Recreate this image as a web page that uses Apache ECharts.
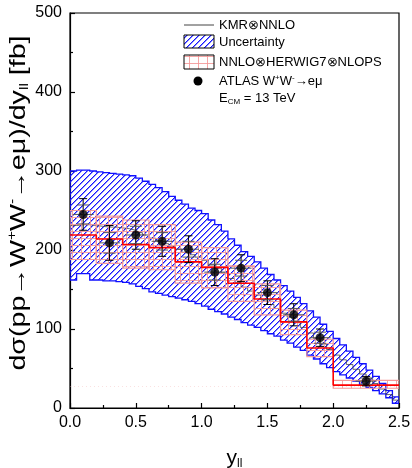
<!DOCTYPE html>
<html><head><meta charset="utf-8">
<script src="https://cdn.jsdelivr.net/npm/echarts@6/dist/echarts.min.js"></script>
<style>html,body{margin:0;padding:0;background:#fff}#c{width:412px;height:468px}</style>
</head><body><div id="c"></div>
<script>
// ---- data ----
const bandStart = 0, bandWidth = 0.05;
const bandUpper = [300,301,301,300,299,298,297,296,295,294, 291,287,283,279,274,268,263,258,253,250,
                   246,238,232,224,214,206,198,192,185,177, 169,162,155,148,140,132,123,115,106,97,
                   88,80,72,64,56,48,40,31,22,14];
const bandLower = [162,170,170,162,162,161,161,160,159,157, 154,151,147,145,143,141,139,137,135,132,
                   129,125,122,119,115,112,108,105,102,98, 94,91,86,82,77,73,67,62,56,51,
                   46,42,38,34,30,26,22,18,13,6];
const kmrCentral = [231,232,232,231,230,229,229,228,227,225, 222,219,215,212,208,204,201,197,194,191,
                    187,181,177,171,164,159,153,148,143,137, 131,126,120,115,108,102,95,88,81,74,
                    67,61,55,49,43,37,31,24,17,10];
const atlasEdges = [0,0.2,0.4,0.6,0.8,1.0,1.2,1.4,1.6,1.8,2.0,2.5];
const herwigCentral = [219,214,207,203,185,178,158,138,109,76,29];
const herwigLow  = [188,183,177,175,158,152,135,118,93,65,25];
const herwigHigh = [250,243,238,232,210,203,180,157,124,87,35];
const atlasX = [0.1,0.3,0.5,0.7,0.9,1.1,1.3,1.5,1.7,1.9,2.25];
const atlasY = [245,209,219,211,201,172,177,146,118,89,34];
const atlasErr = [20,22,18,19,17,17,17,15,14,11,6];
const atlasStat = [12,13,11,11,10,10,10,9,8,7,4];
const atlasXErr = 0.08;
const refLineY = 27;

// ---- patterns ----
function hatchCanvas(){
  const n=6, c=document.createElement('canvas'); c.width=n; c.height=n;
  const g=c.getContext('2d');
  for(let i=0;i<n;i++){ g.fillStyle='#1414ff'; g.fillRect(i,n-1-i,1,1); g.fillStyle='rgba(40,40,255,0.55)'; g.fillRect((i+1)%n,n-1-i,1,1); }
  return c;
}
function gridCanvas(){
  const c=document.createElement('canvas'); c.width=9; c.height=7;
  const g=c.getContext('2d'); g.fillStyle='rgba(243,150,150,0.85)';
  g.fillRect(0,0,9,1); g.fillRect(0,0,1,7);
  return c;
}
const hatch={image:hatchCanvas(),repeat:'repeat'};
const pinkGrid={image:gridCanvas(),repeat:'repeat'};

const bandEdges = bandUpper.map((_,i)=>bandStart+i*bandWidth).concat([bandStart+bandUpper.length*bandWidth]);
function stepData(edges, vals){ const d=vals.map((v,i)=>[edges[i],v]); d.push([edges[edges.length-1],vals[vals.length-1]]); return d; }

const FONT='"Liberation Sans", Arial, sans-serif';
const chart = echarts.init(document.getElementById('c'), null, {renderer:'canvas'});
chart.setOption({
  animation:false,
  grid:{left:70,right:13,top:13,bottom:60,show:true,borderColor:'#000',borderWidth:1.2,backgroundColor:'transparent',
    containLabel:false,outerBoundsMode:'none'},
  xAxis:{type:'value',min:0,max:2.5,interval:0.5,
    axisLine:{show:true,onZero:false,lineStyle:{color:'#000',width:1.2}},
    axisTick:{inside:true,length:5,lineStyle:{color:'#000',width:1.2}},
    minorTick:{show:true,splitNumber:2,length:3,lineStyle:{color:'#000',width:1.2}},
    splitLine:{show:false},minorSplitLine:{show:false},
    axisLabel:{formatter:v=>v.toFixed(1),fontSize:16,color:'#000',margin:7,fontFamily:FONT},
    name:'y{s|ll}',nameLocation:'middle',nameGap:38,
    nameTextStyle:{fontSize:21,color:'#000',fontFamily:FONT,lineHeight:24,rich:{s:{fontSize:12,verticalAlign:'bottom',lineHeight:12,fontFamily:FONT}}}
  },
  yAxis:{type:'value',min:0,max:500,interval:100,
    axisLine:{show:true,onZero:false,lineStyle:{color:'#000',width:1.2}},
    axisTick:{inside:true,length:5,lineStyle:{color:'#000',width:1.2}},
    minorTick:{show:true,splitNumber:2,length:3,lineStyle:{color:'#000',width:1.2}},
    splitLine:{show:false},minorSplitLine:{show:false},
    axisLabel:{fontSize:16,color:'#000',margin:8,fontFamily:FONT}
  },
  series:[
    {type:'custom',name:'Uncertainty',z:1,clip:true,data:[[0,0]],
      renderItem:(p,api)=>{
        const pts=[];
        for(let i=0;i<bandUpper.length;i++){pts.push(api.coord([bandEdges[i],bandUpper[i]]));pts.push(api.coord([bandEdges[i+1],bandUpper[i]]));}
        for(let i=bandLower.length-1;i>=0;i--){pts.push(api.coord([bandEdges[i+1],bandLower[i]]));pts.push(api.coord([bandEdges[i],bandLower[i]]));}
        return {type:'polygon',shape:{points:pts},style:{fill:hatch,stroke:'#1010ff',lineWidth:1.3}};
      }},
    {type:'line',name:'KMR',z:2,step:'end',showSymbol:false,data:stepData(bandEdges,kmrCentral),
      lineStyle:{color:'#444',width:1,opacity:0.8},silent:true},
    {type:'custom',name:'HERWIG band',z:3,clip:true,
      data:herwigCentral.map((v,i)=>[atlasEdges[i],atlasEdges[i+1],herwigLow[i],herwigHigh[i]]),
      renderItem:(p,api)=>{
        const a=api.coord([api.value(0),api.value(3)]), b=api.coord([api.value(1),api.value(2)]);
        return {type:'rect',shape:{x:a[0],y:a[1],width:b[0]-a[0],height:b[1]-a[1]},
          style:{fill:pinkGrid,stroke:'rgba(243,150,150,0.95)',lineWidth:1.2}};
      }},
    {type:'line',name:'HERWIG',z:4,step:'end',showSymbol:false,data:stepData(atlasEdges,herwigCentral),
      lineStyle:{color:'#ff0000',width:1.6},silent:true,
      markLine:{silent:true,symbol:'none',label:{show:false},data:[{yAxis:refLineY}],
        lineStyle:{color:'rgba(240,170,170,0.35)',type:[1,3],width:1}}},
    {type:'custom',name:'errors',z:5,
      data:atlasX.map((x,i)=>[x,atlasY[i],atlasErr[i],atlasStat[i]]),
      renderItem:(p,api)=>{
        const x=api.value(0),y=api.value(1),e=api.value(2),s=api.value(3);
        const top=api.coord([x,y+e]),bot=api.coord([x,y-e]);
        const st=api.coord([x,y+s]),sb=api.coord([x,y-s]);
        const l=api.coord([x-atlasXErr,y]),r=api.coord([x+atlasXErr,y]);
        const blk={stroke:'#000',lineWidth:1}, gr={stroke:'#555',lineWidth:1};
        return {type:'group',children:[
          {type:'line',shape:{x1:top[0],y1:top[1],x2:bot[0],y2:bot[1]},style:blk},
          {type:'line',shape:{x1:top[0]-4,y1:top[1],x2:top[0]+4,y2:top[1]},style:blk},
          {type:'line',shape:{x1:bot[0]-4,y1:bot[1],x2:bot[0]+4,y2:bot[1]},style:blk},
          {type:'line',shape:{x1:st[0]-6,y1:st[1],x2:st[0]+6,y2:st[1]},style:gr},
          {type:'line',shape:{x1:sb[0]-6,y1:sb[1],x2:sb[0]+6,y2:sb[1]},style:gr},
          {type:'line',shape:{x1:l[0],y1:l[1],x2:r[0],y2:r[1]},style:gr}
        ]};
      }},
    {type:'scatter',name:'ATLAS',z:6,symbol:'circle',symbolSize:9,itemStyle:{color:'#000'},
      data:atlasX.map((x,i)=>[x,atlasY[i]])}
  ],
  graphic:[
    {type:'text',x:19,y:203,rotation:Math.PI/2,scaleX:1.3,z:10,
      style:{text:'dσ(pp→W{sp|+}W{sp|-}→eμ)/dy{sb|ll} [fb]',fontSize:22,fontFamily:FONT,fill:'#000',
        align:'center',verticalAlign:'middle',lineHeight:24,
        rich:{sp:{fontSize:12,verticalAlign:'top',lineHeight:12,fontFamily:FONT},sb:{fontSize:12,verticalAlign:'bottom',lineHeight:10,fontFamily:FONT}}}},
    {type:'line',shape:{x1:184,y1:25,x2:214,y2:25},style:{stroke:'#444',lineWidth:1}},
    {type:'rect',shape:{x:184,y:35,width:30,height:13},style:{fill:hatch,stroke:'#000',lineWidth:1}},
    {type:'rect',shape:{x:184,y:55,width:30,height:14},style:{fill:pinkGrid,stroke:'#000',lineWidth:1}},
    {type:'circle',shape:{cx:198,cy:81,r:4.5},style:{fill:'#000'}},
    {type:'text',x:219,y:25,style:{text:'KMR⊗NNLO',font:'13px '+FONT,fill:'#000',verticalAlign:'middle'}},
    {type:'text',x:219,y:42,style:{text:'Uncertainty',font:'13px '+FONT,fill:'#000',verticalAlign:'middle'}},
    {type:'text',x:219,y:62,style:{text:'NNLO⊗HERWIG7⊗NLOPS',font:'13px '+FONT,fill:'#000',verticalAlign:'middle'}},
    {type:'text',x:219,y:81,style:{text:'ATLAS W{p|+}W{p|-}→eμ',fontSize:13,fontFamily:FONT,fill:'#000',verticalAlign:'middle',
      lineHeight:15,rich:{p:{fontSize:8,verticalAlign:'top',lineHeight:9,fontFamily:FONT}}}},
    {type:'text',x:219,y:98,style:{text:'E{b|CM} = 13 TeV',fontSize:13,fontFamily:FONT,fill:'#000',verticalAlign:'middle',
      lineHeight:15,rich:{b:{fontSize:8,verticalAlign:'bottom',lineHeight:9,fontFamily:FONT}}}}
  ]
});
</script></body></html>
